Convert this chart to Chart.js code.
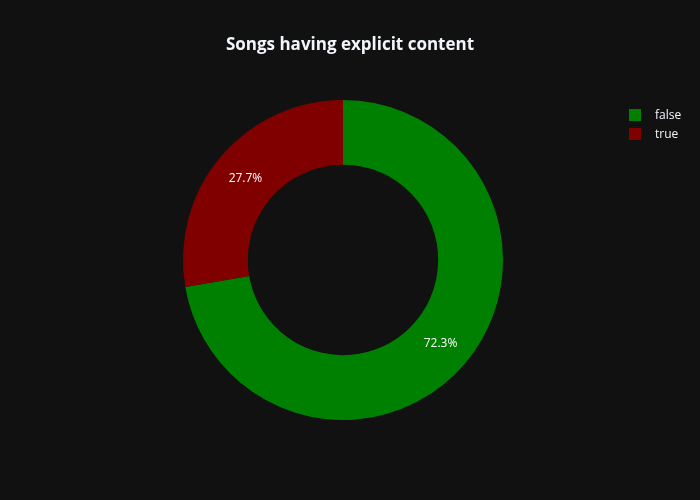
<!DOCTYPE html>
<html>
<head>
<meta charset="utf-8">
<script src="https://cdn.jsdelivr.net/npm/chart.js@4"></script>
<style>
html,body{margin:0;padding:0;background:#111111;}
#wrap{width:700px;height:500px;}
</style>
</head>
<body>
<div id="wrap"><canvas id="c" width="700" height="500"></canvas></div>
<script>
const categories = ["false", "true"];
const values = [72.3, 27.7];
const colors = ["#008000", "#800000"];
const titleText = "Songs having explicit content";

const overlay = {
  id: 'overlay',
  afterDatasetsDraw(chart) {
    const ctx = chart.ctx;
    const meta = chart.getDatasetMeta(0);
    const total = values.reduce((a, b) => a + b, 0);
    ctx.save();
    ctx.fillStyle = '#ffffff';
    ctx.font = '12px "Open Sans"';
    ctx.textAlign = 'center';
    ctx.textBaseline = 'middle';
    meta.data.forEach((arc, i) => {
      const p = arc.tooltipPosition();
      ctx.fillText((values[i] / total * 100).toFixed(1) + '%', p.x, p.y + 1);
    });
    ctx.restore();
  },
  afterDraw(chart) {
    const ctx = chart.ctx;
    ctx.save();
    ctx.fillStyle = '#f2f5fa';
    ctx.font = 'bold 17px "Open Sans"';
    ctx.textAlign = 'center';
    ctx.textBaseline = 'middle';
    ctx.fillText(titleText, 350, 45);
    ctx.font = '12px "Open Sans"';
    ctx.textAlign = 'left';
    categories.forEach((c, i) => {
      const y = 115 + i * 19;
      ctx.fillStyle = colors[i];
      ctx.fillRect(629, y - 6, 12, 12);
      ctx.fillStyle = '#f2f5fa';
      ctx.fillText(c, 655, y + 1);
    });
    ctx.restore();
  }
};

new Chart(document.getElementById('c'), {
  type: 'doughnut',
  data: {
    labels: categories,
    datasets: [{
      data: values,
      backgroundColor: colors,
      borderWidth: 0
    }]
  },
  options: {
    responsive: false,
    animation: false,
    cutout: '59.5%',
    layout: { padding: { left: 183, right: 197, top: 100, bottom: 80 } },
    plugins: {
      legend: { display: false },
      title: { display: false },
      tooltip: { enabled: false }
    }
  },
  plugins: [{
    id: 'bg',
    beforeDraw(chart) {
      const ctx = chart.ctx;
      ctx.save();
      ctx.fillStyle = '#111111';
      ctx.fillRect(0, 0, chart.width, chart.height);
      ctx.restore();
    }
  }, overlay]
});
</script>
</body>
</html>
